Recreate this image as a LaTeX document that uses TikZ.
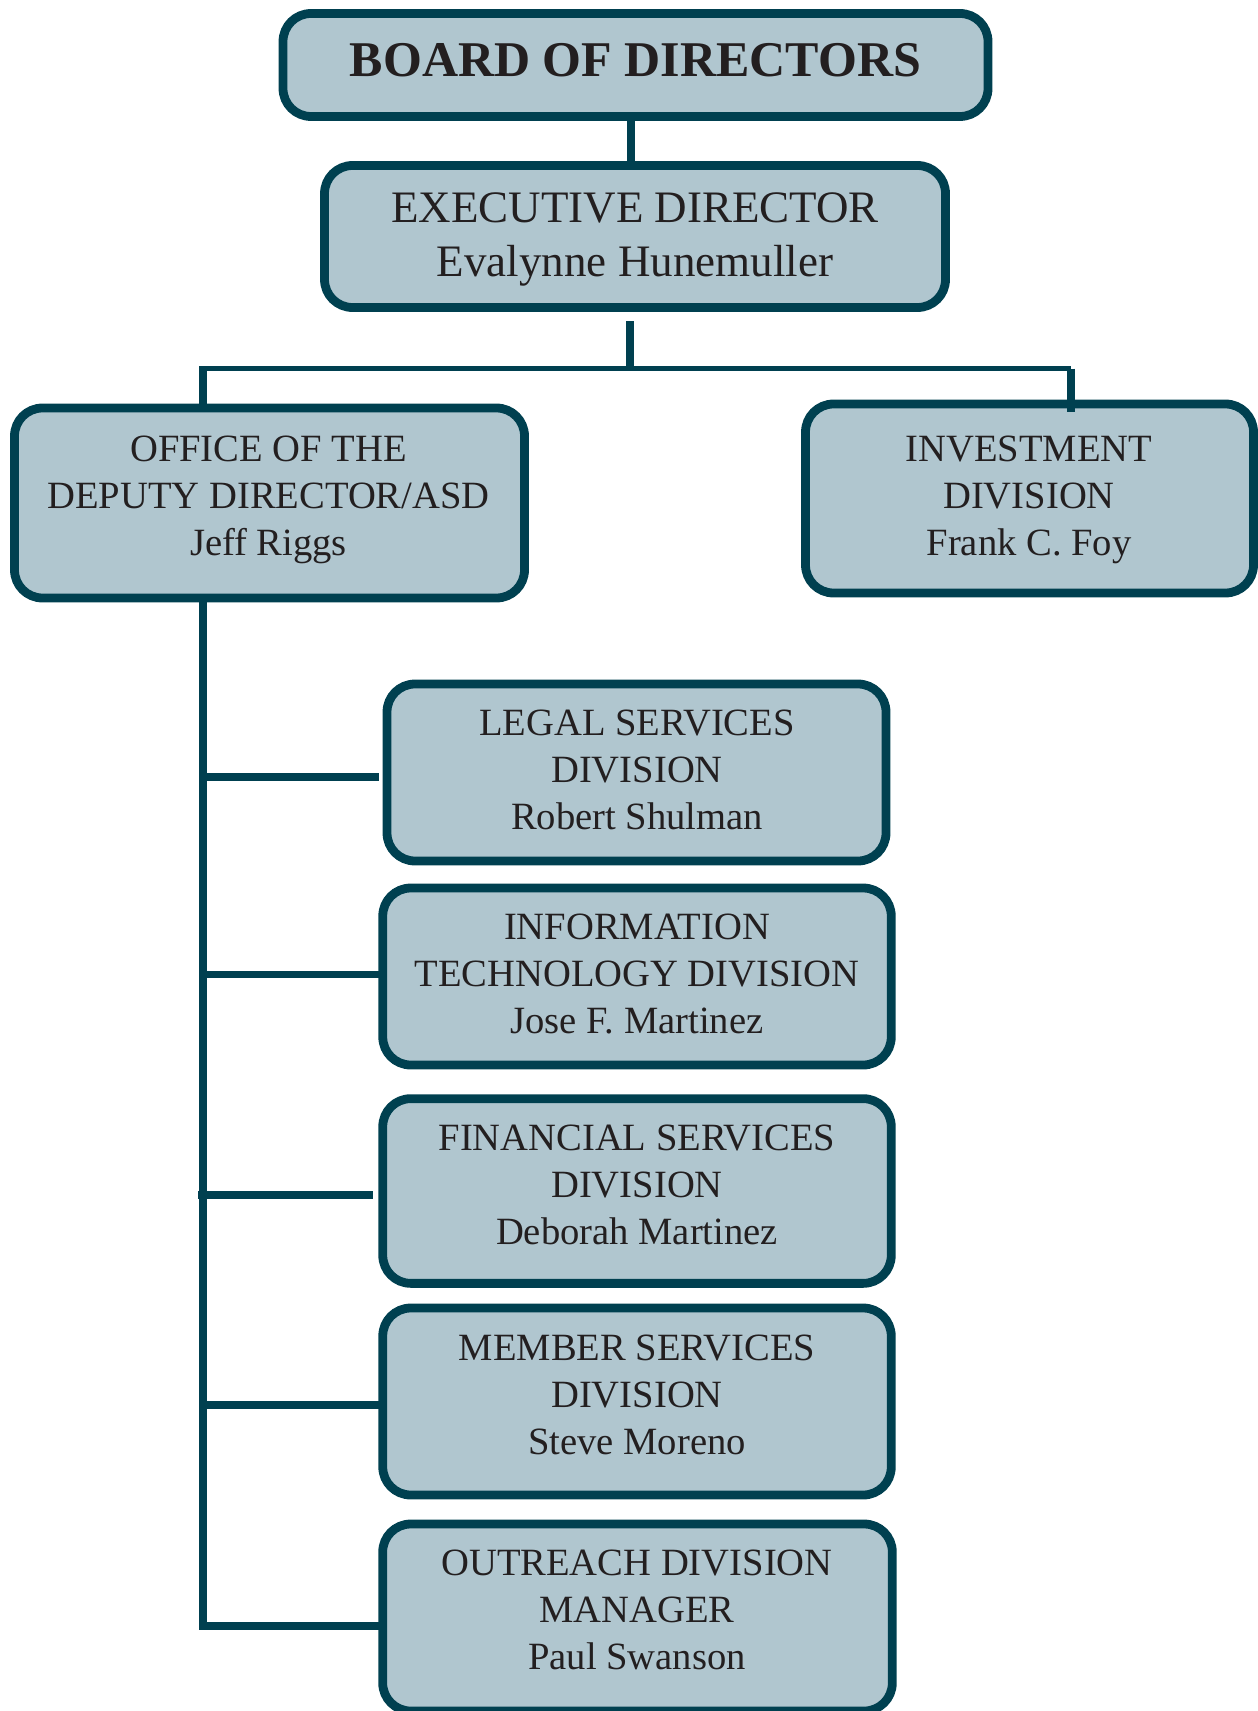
\documentclass[tikz,border=0pt]{standalone}
\usepackage{fontspec}
\setmainfont{Liberation Serif}
\definecolor{edge}{RGB}{0,64,80}
\definecolor{boxfill}{RGB}{176,198,207}
\definecolor{ink}{RGB}{35,31,32}
\begin{document}
\begin{tikzpicture}[x=0.5pt,y=-0.5pt,
  orgbox/.style={draw=edge, fill=boxfill, line width=4.4pt, rounded corners=14pt, inner sep=0pt, outer sep=0pt},
  txt/.style={text=ink, align=center, inner sep=0pt, font=\fontsize{19.3}{23.5}\selectfont},
  exectxt/.style={text=ink, align=center, inner sep=0pt, font=\fontsize{22.5}{27.3}\selectfont},
  boardtxt/.style={text=ink, inner sep=0pt, font=\fontsize{25}{30}\selectfont\bfseries},
  vconn/.style={draw=edge, line width=4pt},
  busline/.style={draw=edge, line width=2.75pt},
  branch/.style={draw=edge, line width=3.8pt}
]
\useasboundingbox (0,0) rectangle (1257,1711);

% coordinates of the bus and branches
\coordinate (busL) at (202.9,368.7);
\coordinate (busR) at (1071.3,368.7);
\coordinate (bLegal) at (202.9,777);
\coordinate (bIT) at (202.9,974.5);
\coordinate (bFin) at (202.9,1195);
\coordinate (bMem) at (202.9,1405);
\coordinate (bOut) at (202.9,1626);

% boxes
\node[orgbox, minimum width=352.5pt, minimum height=51.5pt] (board) at (635.5,65) {};
\node[orgbox, minimum width=310.5pt, minimum height=71pt] (exec) at (635,236.5) {};
\node[orgbox, minimum width=255pt, minimum height=95pt] (office) at (269.5,503) {};
\node[orgbox, minimum width=224pt, minimum height=94.5pt] (invest) at (1029.5,498.5) {};
\node[orgbox, minimum width=249.5pt, minimum height=88.5pt] (legal) at (636.5,772.5) {};
\node[orgbox, minimum width=254.25pt, minimum height=88.5pt] (it) at (637,976.5) {};
\node[orgbox, minimum width=254.25pt, minimum height=92.35pt] (fin) at (637,1191) {};
\node[orgbox, minimum width=254.25pt, minimum height=93.5pt] (mem) at (637,1401.5) {};
\node[orgbox, minimum width=254.8pt, minimum height=93.5pt] (out) at (637.5,1617.5) {};

% connectors
\draw[vconn] ([xshift=-2.4pt]board.south) -- ([xshift=-2.4pt]board.south |- exec.north);
\draw[vconn] ([xshift=-2.5pt,yshift=-7pt]exec.south) -- ([xshift=-2.5pt]exec.south |- busL);
\draw[busline] (busL) -- (busR);
\draw[vconn] ([yshift=1.3pt]busL) -- (busL |- office.north);
\draw[vconn] (busR) -- ([yshift=-4pt]busR |- invest.north);
\draw[branch] (busL |- office.south) -- (bOut) -- (out.west |- bOut);
\draw[branch] (bLegal) -- ([xshift=-4.15pt]legal.west |- bLegal);
\draw[branch] (bIT) -- (it.west |- bIT);
\draw[branch] ([xshift=-2.3pt]bFin) -- ([xshift=-4.65pt]fin.west |- bFin);
\draw[branch] (bMem) -- (mem.west |- bMem);

% texts
\node[boardtxt] (boardT) at (635.5,60) {BOARD OF DIRECTORS};
\node[exectxt] (execT) at (635,239.5) {EXECUTIVE DIRECTOR\\Evalynne Hunemuller};
\node[txt] (officeT) at (268.5,499.4) {OFFICE OF THE\\DEPUTY DIRECTOR/ASD\\Jeff Riggs};
\node[txt] (investT) at (1029,499.4) {INVESTMENT\\DIVISION\\Frank C. Foy};
\node[txt] (legalT) at (637,770.3) {LEGAL SERVICES\\DIVISION\\Robert Shulman};
\node[txt] (itT) at (637,974.4) {INFORMATION\\TECHNOLOGY DIVISION\\Jose F. Martinez};
\node[txt] (finT) at (637,1185) {FINANCIAL SERVICES\\DIVISION\\Deborah Martinez};
\node[txt] (memT) at (637,1394.4) {MEMBER SERVICES\\DIVISION\\Steve Moreno};
\node[txt] (outT) at (637,1609.4) {OUTREACH DIVISION\\MANAGER\\Paul Swanson};
\end{tikzpicture}
\end{document}
